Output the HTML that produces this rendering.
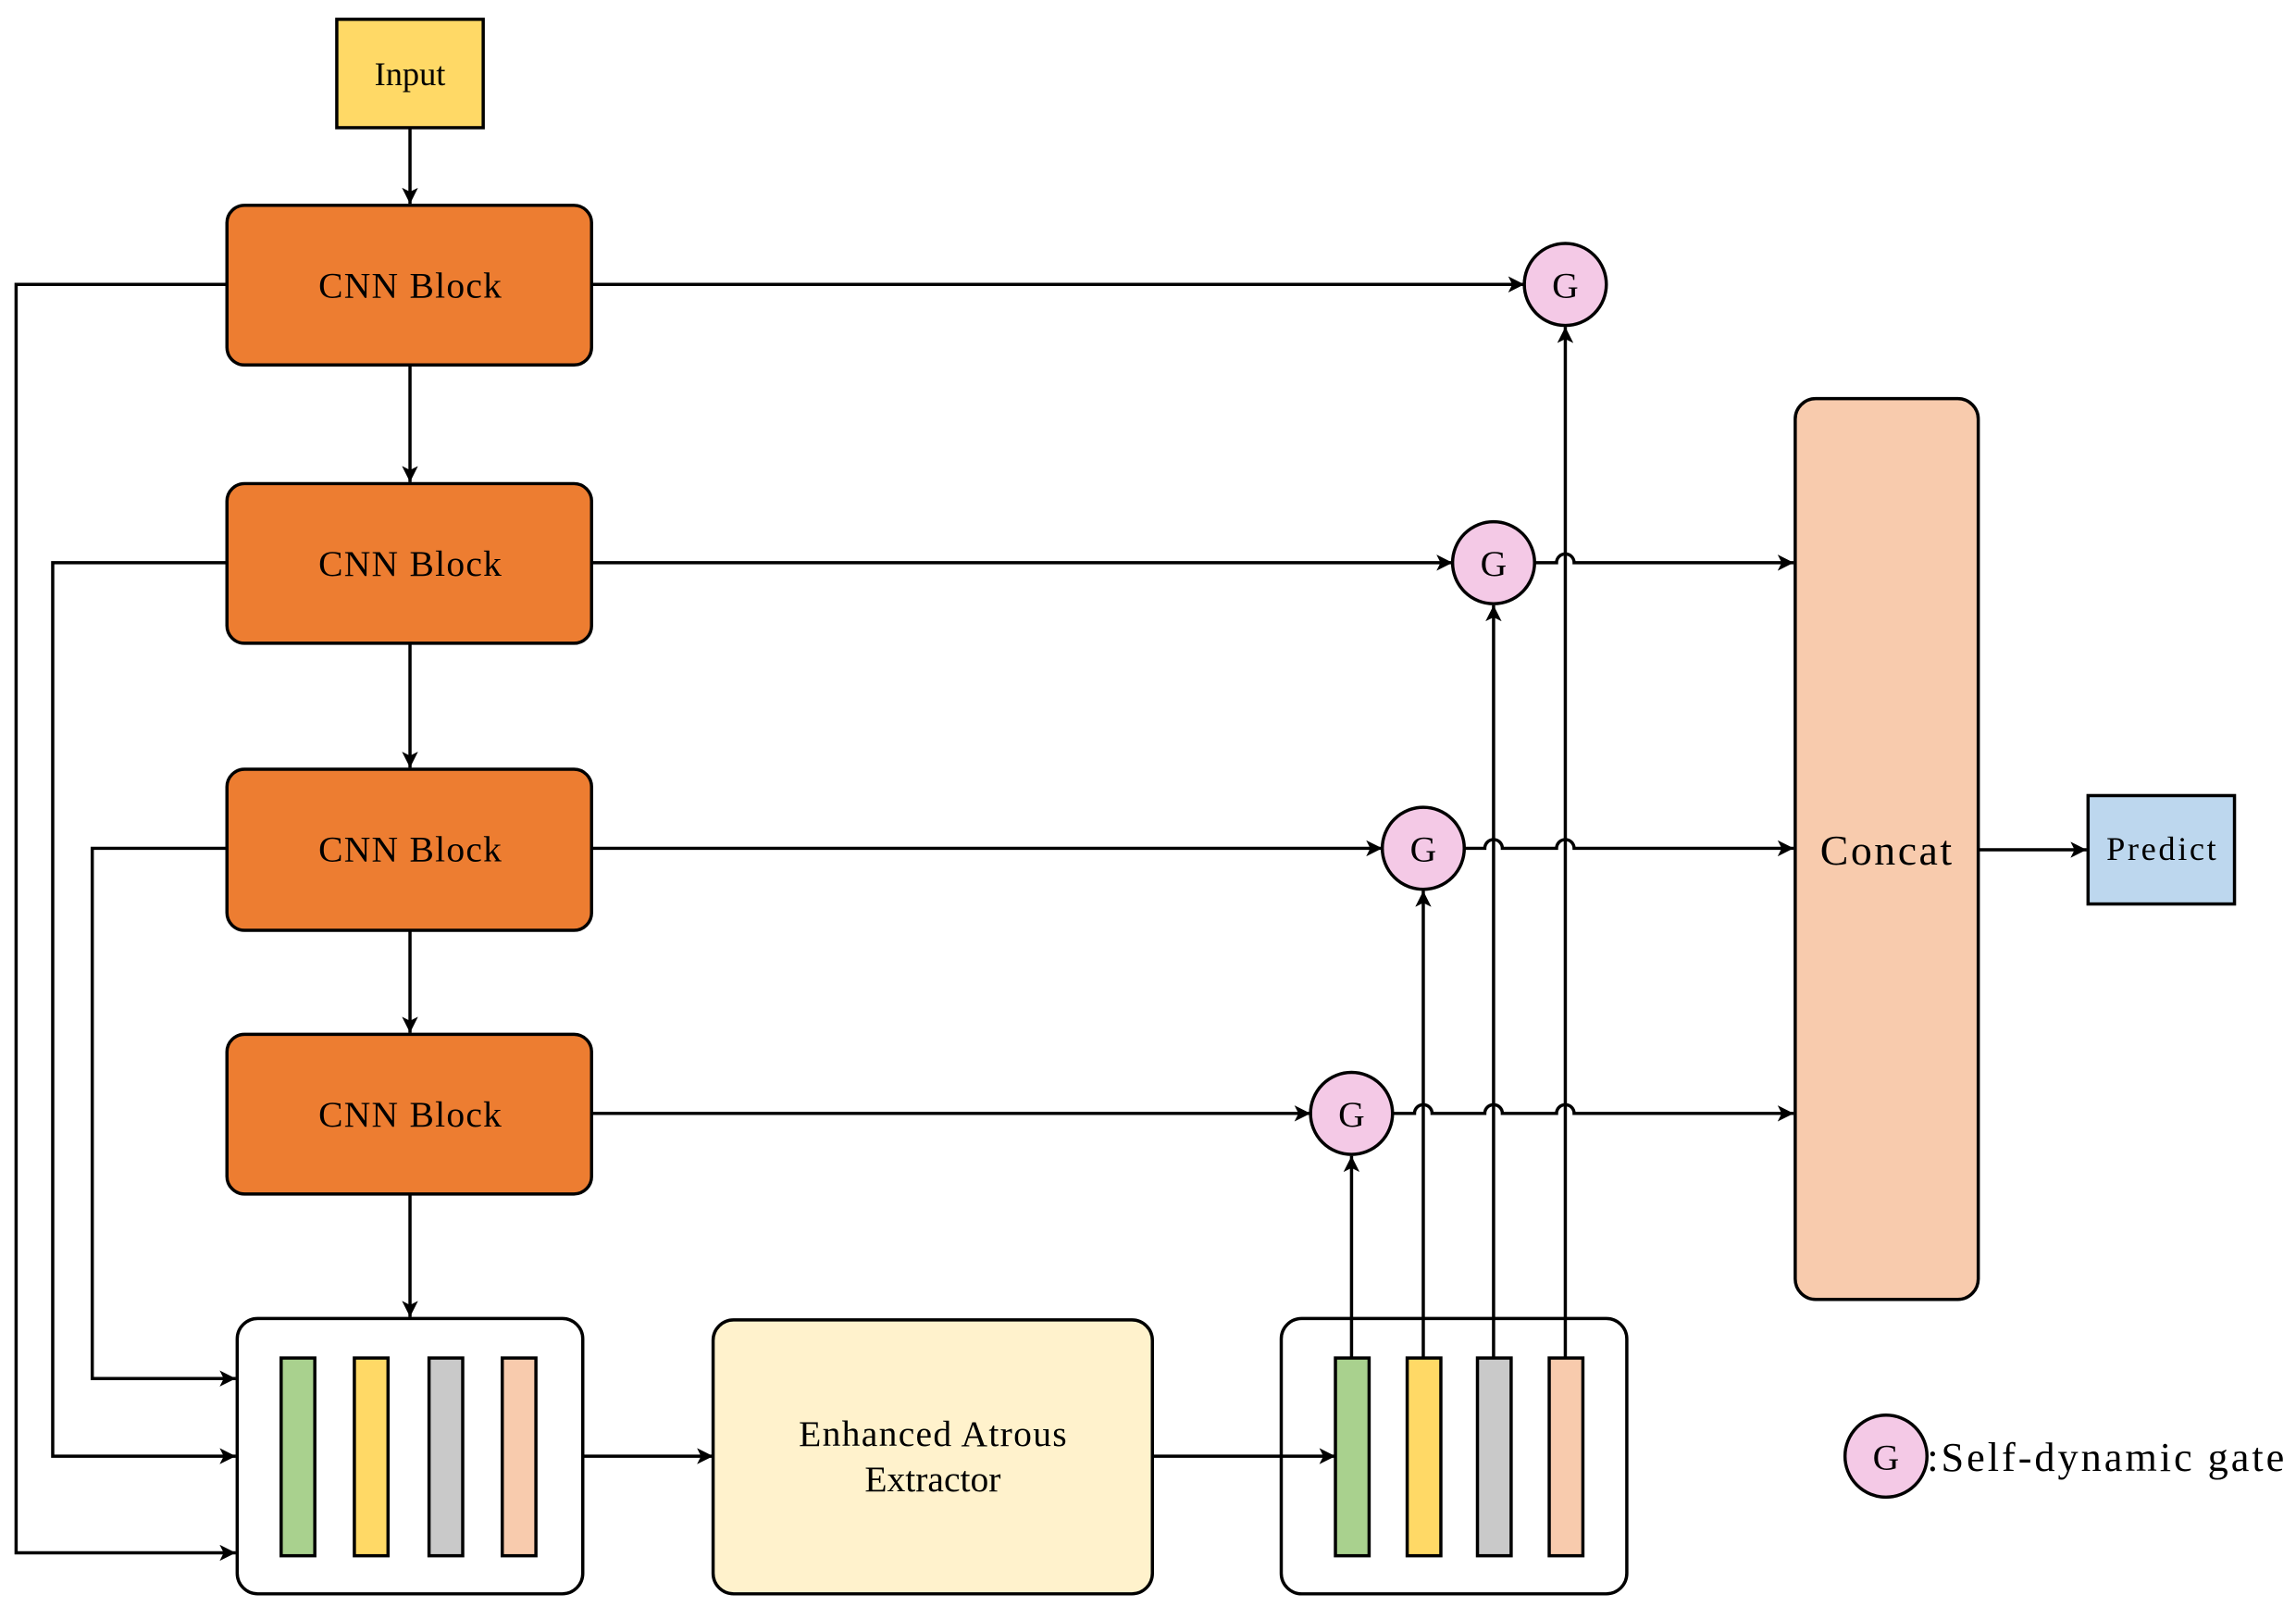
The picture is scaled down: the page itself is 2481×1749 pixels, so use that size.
<!DOCTYPE html>
<html><head><meta charset="utf-8"><style>
html,body{margin:0;padding:0;background:#fff;}
svg{display:block;}
text{font-family:"Liberation Serif","Times New Roman",serif;fill:#000;}
</style></head><body>
<svg width="2481" height="1749" viewBox="0 0 1568 1105" xmlns="http://www.w3.org/2000/svg">
<defs>
<marker id="a" viewBox="0 0 10 10" refX="10" refY="5" markerWidth="13" markerHeight="11" orient="auto-start-reverse" markerUnits="userSpaceOnUse">
<path d="M0,0 L10,5 L0,10 L2.5,5 z" fill="#000"/></marker>
</defs>
<g stroke="#000" stroke-width="2.2" fill="none">
<rect x="230" y="13" width="100" height="74" fill="#FFD966"/>
<line x1="280" y1="87" x2="280" y2="139" marker-end="url(#a)"/>
<rect x="155" y="140" width="249" height="109" rx="12" fill="#ED7D31"/>
<rect x="155" y="330" width="249" height="109" rx="12" fill="#ED7D31"/>
<rect x="155" y="525" width="249" height="110" rx="12" fill="#ED7D31"/>
<rect x="155" y="706" width="249" height="109" rx="12" fill="#ED7D31"/>
<line x1="280" y1="249" x2="280" y2="329" marker-end="url(#a)"/>
<line x1="280" y1="439" x2="280" y2="524" marker-end="url(#a)"/>
<line x1="280" y1="635" x2="280" y2="705" marker-end="url(#a)"/>
<line x1="280" y1="815" x2="280" y2="899" marker-end="url(#a)"/>
<line x1="404" y1="194" x2="1041" y2="194" marker-end="url(#a)"/>
<line x1="404" y1="384" x2="992" y2="384" marker-end="url(#a)"/>
<line x1="404" y1="579" x2="944" y2="579" marker-end="url(#a)"/>
<line x1="404" y1="760" x2="895" y2="760" marker-end="url(#a)"/>
<polyline points="155,194 11,194 11,1060 161,1060" marker-end="url(#a)"/>
<polyline points="155,384 36,384 36,994 161,994" marker-end="url(#a)"/>
<polyline points="155,579 63,579 63,941 161,941" marker-end="url(#a)"/>
<rect x="162" y="900" width="236" height="188" rx="14" fill="#fff"/>
<rect x="487" y="901" width="300" height="187" rx="14" fill="#FFF2CC"/>
<rect x="875" y="900" width="236" height="188" rx="14" fill="#fff"/>
<line x1="398" y1="994" x2="487" y2="994" marker-end="url(#a)"/>
<line x1="787" y1="994" x2="912" y2="994" marker-end="url(#a)"/>
<rect x="192" y="927" width="23" height="135" fill="#A9D18E"/>
<rect x="242" y="927" width="23" height="135" fill="#FFD966"/>
<rect x="293" y="927" width="23" height="135" fill="#C9C9C9"/>
<rect x="343" y="927" width="23" height="135" fill="#F8CBAD"/>
<rect x="912" y="927" width="23" height="135" fill="#A9D18E"/>
<rect x="961" y="927" width="23" height="135" fill="#FFD966"/>
<rect x="1009" y="927" width="23" height="135" fill="#C9C9C9"/>
<rect x="1058" y="927" width="23" height="135" fill="#F8CBAD"/>
<line x1="923" y1="927" x2="923" y2="789" marker-end="url(#a)"/>
<line x1="972" y1="927" x2="972" y2="608" marker-end="url(#a)"/>
<line x1="1020" y1="927" x2="1020" y2="413" marker-end="url(#a)"/>
<line x1="1069" y1="927" x2="1069" y2="223" marker-end="url(#a)"/>
<path d="M1048,384 H1063 a6,6 0 0 1 12,0 H1225" marker-end="url(#a)"/>
<path d="M1000,579 H1014 a6,6 0 0 1 12,0 H1063 a6,6 0 0 1 12,0 H1225" marker-end="url(#a)"/>
<path d="M951,760 H966 a6,6 0 0 1 12,0 H1014 a6,6 0 0 1 12,0 H1063 a6,6 0 0 1 12,0 H1225" marker-end="url(#a)"/>
<circle cx="1069" cy="194" r="28" fill="#F4C9E6"/>
<circle cx="1020" cy="384" r="28" fill="#F4C9E6"/>
<circle cx="972" cy="579" r="28" fill="#F4C9E6"/>
<circle cx="923" cy="760" r="28" fill="#F4C9E6"/>
<circle cx="1288" cy="994" r="28" fill="#F4C9E6"/>
<rect x="1226" y="272" width="125" height="615" rx="14" fill="#F8CBAD"/>
<line x1="1351" y1="580" x2="1425" y2="580" marker-end="url(#a)"/>
<rect x="1426" y="543" width="100" height="74" fill="#BDD7EE"/>
</g>
<g font-size="25" text-anchor="middle" font-family="Liberation Serif, Times New Roman, serif">
<text x="280" y="58" font-size="23">Input</text>
<text x="280" y="203" textLength="125">CNN Block</text>
<text x="280" y="393" textLength="125">CNN Block</text>
<text x="280" y="588" textLength="125">CNN Block</text>
<text x="280" y="769" textLength="125">CNN Block</text>
<text x="637" y="987" textLength="183">Enhanced Atrous</text>
<text x="637" y="1018">Extractor</text>
<text x="1069" y="203">G</text>
<text x="1020" y="393">G</text>
<text x="972" y="588">G</text>
<text x="923" y="769">G</text>
<text x="1288" y="1003">G</text>
<text x="1288" y="590" font-size="29" textLength="90">Concat</text>
<text x="1476" y="587" font-size="23" textLength="75">Predict</text>
</g>
<text x="1316" y="1004" font-size="28" textLength="244" font-family="Liberation Serif, Times New Roman, serif">:Self-dynamic gate</text>
</svg>
</body></html>
